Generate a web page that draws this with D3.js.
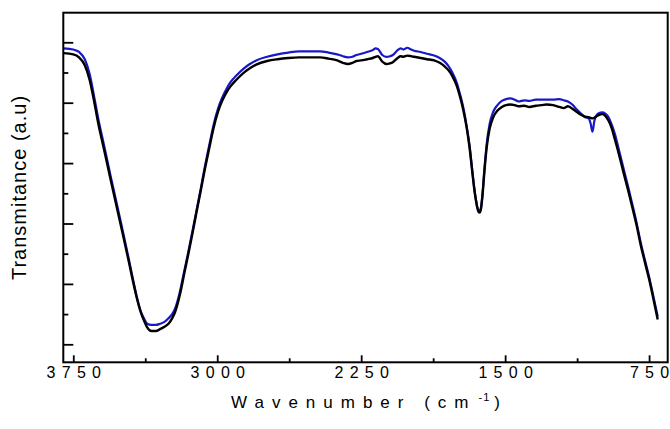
<!DOCTYPE html>
<html>
<head>
<meta charset="utf-8">
<script src="https://cdn.jsdelivr.net/npm/d3@7"></script>
<style>
  html, body { margin: 0; padding: 0; background: #fff; }
  svg { display: block; }
  text { font-family: "Liberation Sans", Arial, sans-serif; fill: #000; }
</style>
</head>
<body>
<svg id="chart" width="670" height="429"></svg>
<script>
// ---- Data ----
const wavenumbers = [3800,3750,3720,3690,3665,3640,3620,3590,3555,3520,3487,3460,3443,3420,3398,3380,3365,3343,3320,3298,3275,3254,3235,3220,3200,3187,3170,3154,3130,3109,3085,3065,3040,3020,2995,2976,2950,2931,2900,2864,2830,2797,2740,2686,2630,2575,2520,2464,2420,2375,2345,2320,2295,2275,2250,2219,2190,2175,2163,2140,2119,2100,2085,2060,2045,2030,2010,1990,1974,1940,1907,1870,1841,1815,1796,1775,1752,1735,1718,1700,1685,1672,1662,1652,1645,1638,1633,1626,1618,1608,1596,1580,1562,1540,1517,1495,1473,1450,1430,1400,1373,1340,1310,1284,1250,1217,1195,1173,1150,1128,1105,1083,1065,1055,1045,1035,1022,1010,995,978,961,945,928,905,883,860,839,815,794,772,750,728,705];

const blackSeries = [48.2,48.0,47.5,46.2,43.8,40.0,36.6,32.3,27.2,22.2,17.5,13.6,11.0,7.8,5.3,3.8,2.8,2.2,2.2,2.5,2.9,3.4,4.3,5.3,7.5,9.3,12.0,14.4,18.2,21.7,25.6,28.9,32.7,35.7,38.6,40.2,41.8,42.7,43.8,44.9,45.7,46.3,46.9,47.2,47.4,47.5,47.5,47.5,47.3,47.0,46.6,46.4,46.6,46.9,47.0,47.2,47.4,47.6,47.7,46.8,46.4,46.5,46.7,47.4,47.7,47.6,47.8,47.7,47.6,47.4,47.2,47.0,46.6,46.0,45.4,44.4,42.8,41.0,38.8,35.8,32.5,28.8,26.0,23.8,22.6,21.9,21.8,22.4,24.6,28.6,32.6,35.8,37.6,38.7,39.3,39.6,39.7,39.6,39.4,39.5,39.3,39.5,39.6,39.7,39.6,39.3,39.1,39.4,39.0,38.5,38.0,37.7,37.6,37.5,37.4,37.5,37.8,38.0,38.1,37.8,37.0,35.8,33.9,31.2,28.4,25.6,22.9,19.7,16.5,13.6,10.8,7.6,4.1];

const blueSeries = [49.0,48.8,48.4,47.2,44.8,40.8,37.4,33.0,27.8,22.8,18.0,14.0,11.4,8.0,5.4,4.2,3.4,3.2,3.2,3.4,3.7,4.3,5.0,5.9,8.0,9.8,12.4,14.8,18.6,22.0,25.9,29.3,33.2,36.2,39.1,40.7,42.4,43.4,44.5,45.6,46.4,47.0,47.6,48.0,48.3,48.5,48.5,48.5,48.3,48.0,47.7,47.5,47.6,47.9,48.1,48.4,48.7,49.0,48.9,47.9,47.6,47.7,47.9,48.7,49.0,48.8,49.1,48.8,48.6,48.4,48.1,47.8,47.4,46.8,46.1,45.0,43.3,41.4,39.2,36.0,32.8,29.0,26.2,23.9,22.7,22.1,22.0,22.6,24.9,29.0,33.2,36.6,38.5,39.6,40.3,40.6,40.7,40.5,40.2,40.4,40.3,40.5,40.5,40.5,40.5,40.6,40.4,40.2,39.7,38.9,38.2,37.6,37.4,36.6,35.2,37.0,38.0,38.3,38.4,38.2,37.6,36.4,34.8,31.9,29.1,26.2,23.4,20.1,16.9,14.0,11.2,8.0,4.6];

const xMajorTicks = [3750, 3000, 2250, 1500, 750];
const xMinorTicks = [3375, 2625, 1875, 1125];
const yMajorTicks = [0, 10, 20, 30, 40, 50];
const yMinorTicks = [5, 15, 25, 35, 45];

const xTitle = "Wavenumber (cm";
const xTitleSup = "-1";
const yTitle = "Transmitance (a.u)";

// ---- Layout ----
const svg = d3.select("#chart");
const pL = 63.3, pR = 667.7, pT = 12.7, pB = 362.3;

const x = d3.scaleLinear().domain([3802, 653]).range([pL, pR]);
const y = d3.scaleLinear().domain([-2.98, 54.9]).range([pB, pT]);

const line = (vals) => d3.line()
  .x((d, i) => x(wavenumbers[i]))
  .y(d => y(d))
  .curve(d3.curveMonotoneX)(vals);

// curves: blue under black
svg.append("path")
  .attr("d", line(blueSeries))
  .attr("fill", "none")
  .attr("stroke", "#1818c8")
  .attr("stroke-width", 2.2)
  .attr("stroke-linejoin", "round");

svg.append("path")
  .attr("d", line(blackSeries))
  .attr("fill", "none")
  .attr("stroke", "#000")
  .attr("stroke-width", 2.4)
  .attr("stroke-linejoin", "round");

// Frame
svg.append("rect")
  .attr("x", pL).attr("y", pT)
  .attr("width", pR - pL).attr("height", pB - pT)
  .attr("fill", "none").attr("stroke", "#000").attr("stroke-width", 2);

// letter-spaced text without trailing space after the last glyph
function spaced(sel, str, ls) {
  sel.text(null);
  sel.append("tspan").style("letter-spacing", ls + "px").text(str.slice(0, -1));
  sel.append("tspan").style("letter-spacing", "0px").text(str.slice(-1));
}

// X axis major
const xAxis = svg.append("g")
  .attr("transform", `translate(0,${pB})`)
  .call(d3.axisBottom(x).tickValues(xMajorTicks).tickSizeInner(-7).tickSizeOuter(0).tickPadding(4).tickFormat(d3.format("d")));
xAxis.select(".domain").remove();
xAxis.selectAll("line").attr("stroke", "#000").attr("stroke-width", 1.8);
xAxis.selectAll("text")
  .style("font-family", '"Liberation Sans", Arial, sans-serif')
  .style("font-size", "16px")
  .attr("fill", "#000")
  .each(function(d) { spaced(d3.select(this), String(d), 6.3); });

// X axis minor
const xAxisMinor = svg.append("g")
  .attr("transform", `translate(0,${pB})`)
  .call(d3.axisBottom(x).tickValues(xMinorTicks).tickSizeInner(-4).tickSizeOuter(0).tickFormat(""));
xAxisMinor.select(".domain").remove();
xAxisMinor.selectAll("line").attr("stroke", "#000").attr("stroke-width", 1.8);

// Y axis major
const yAxis = svg.append("g")
  .attr("transform", `translate(${pL},0)`)
  .call(d3.axisLeft(y).tickValues(yMajorTicks).tickSizeInner(-10).tickSizeOuter(0).tickFormat(""));
yAxis.select(".domain").remove();
yAxis.selectAll("line").attr("stroke", "#000").attr("stroke-width", 1.8);

// Y axis minor
const yAxisMinor = svg.append("g")
  .attr("transform", `translate(${pL},0)`)
  .call(d3.axisLeft(y).tickValues(yMinorTicks).tickSizeInner(-5).tickSizeOuter(0).tickFormat(""));
yAxisMinor.select(".domain").remove();
yAxisMinor.selectAll("line").attr("stroke", "#000").attr("stroke-width", 1.8);

// X title
const xt = svg.append("text")
  .attr("x", (pL + pR) / 2)
  .attr("y", 408)
  .attr("text-anchor", "middle")
  .style("font-size", "17px");
xt.append("tspan").style("letter-spacing", "8px").text(xTitle);
xt.append("tspan").attr("dy", -7).attr("dx", 2).style("font-size", "11px").style("letter-spacing", "1px").text(xTitleSup);
xt.append("tspan").attr("dy", 7).attr("dx", 4).style("letter-spacing", "0px").text(")");

// Y title
svg.append("text")
  .attr("transform", `translate(26,${(pT + pB) / 2}) rotate(-90)`)
  .attr("text-anchor", "middle")
  .style("font-size", "20px")
  .style("letter-spacing", "1px")
  .text(yTitle);
</script>
</body>
</html>
